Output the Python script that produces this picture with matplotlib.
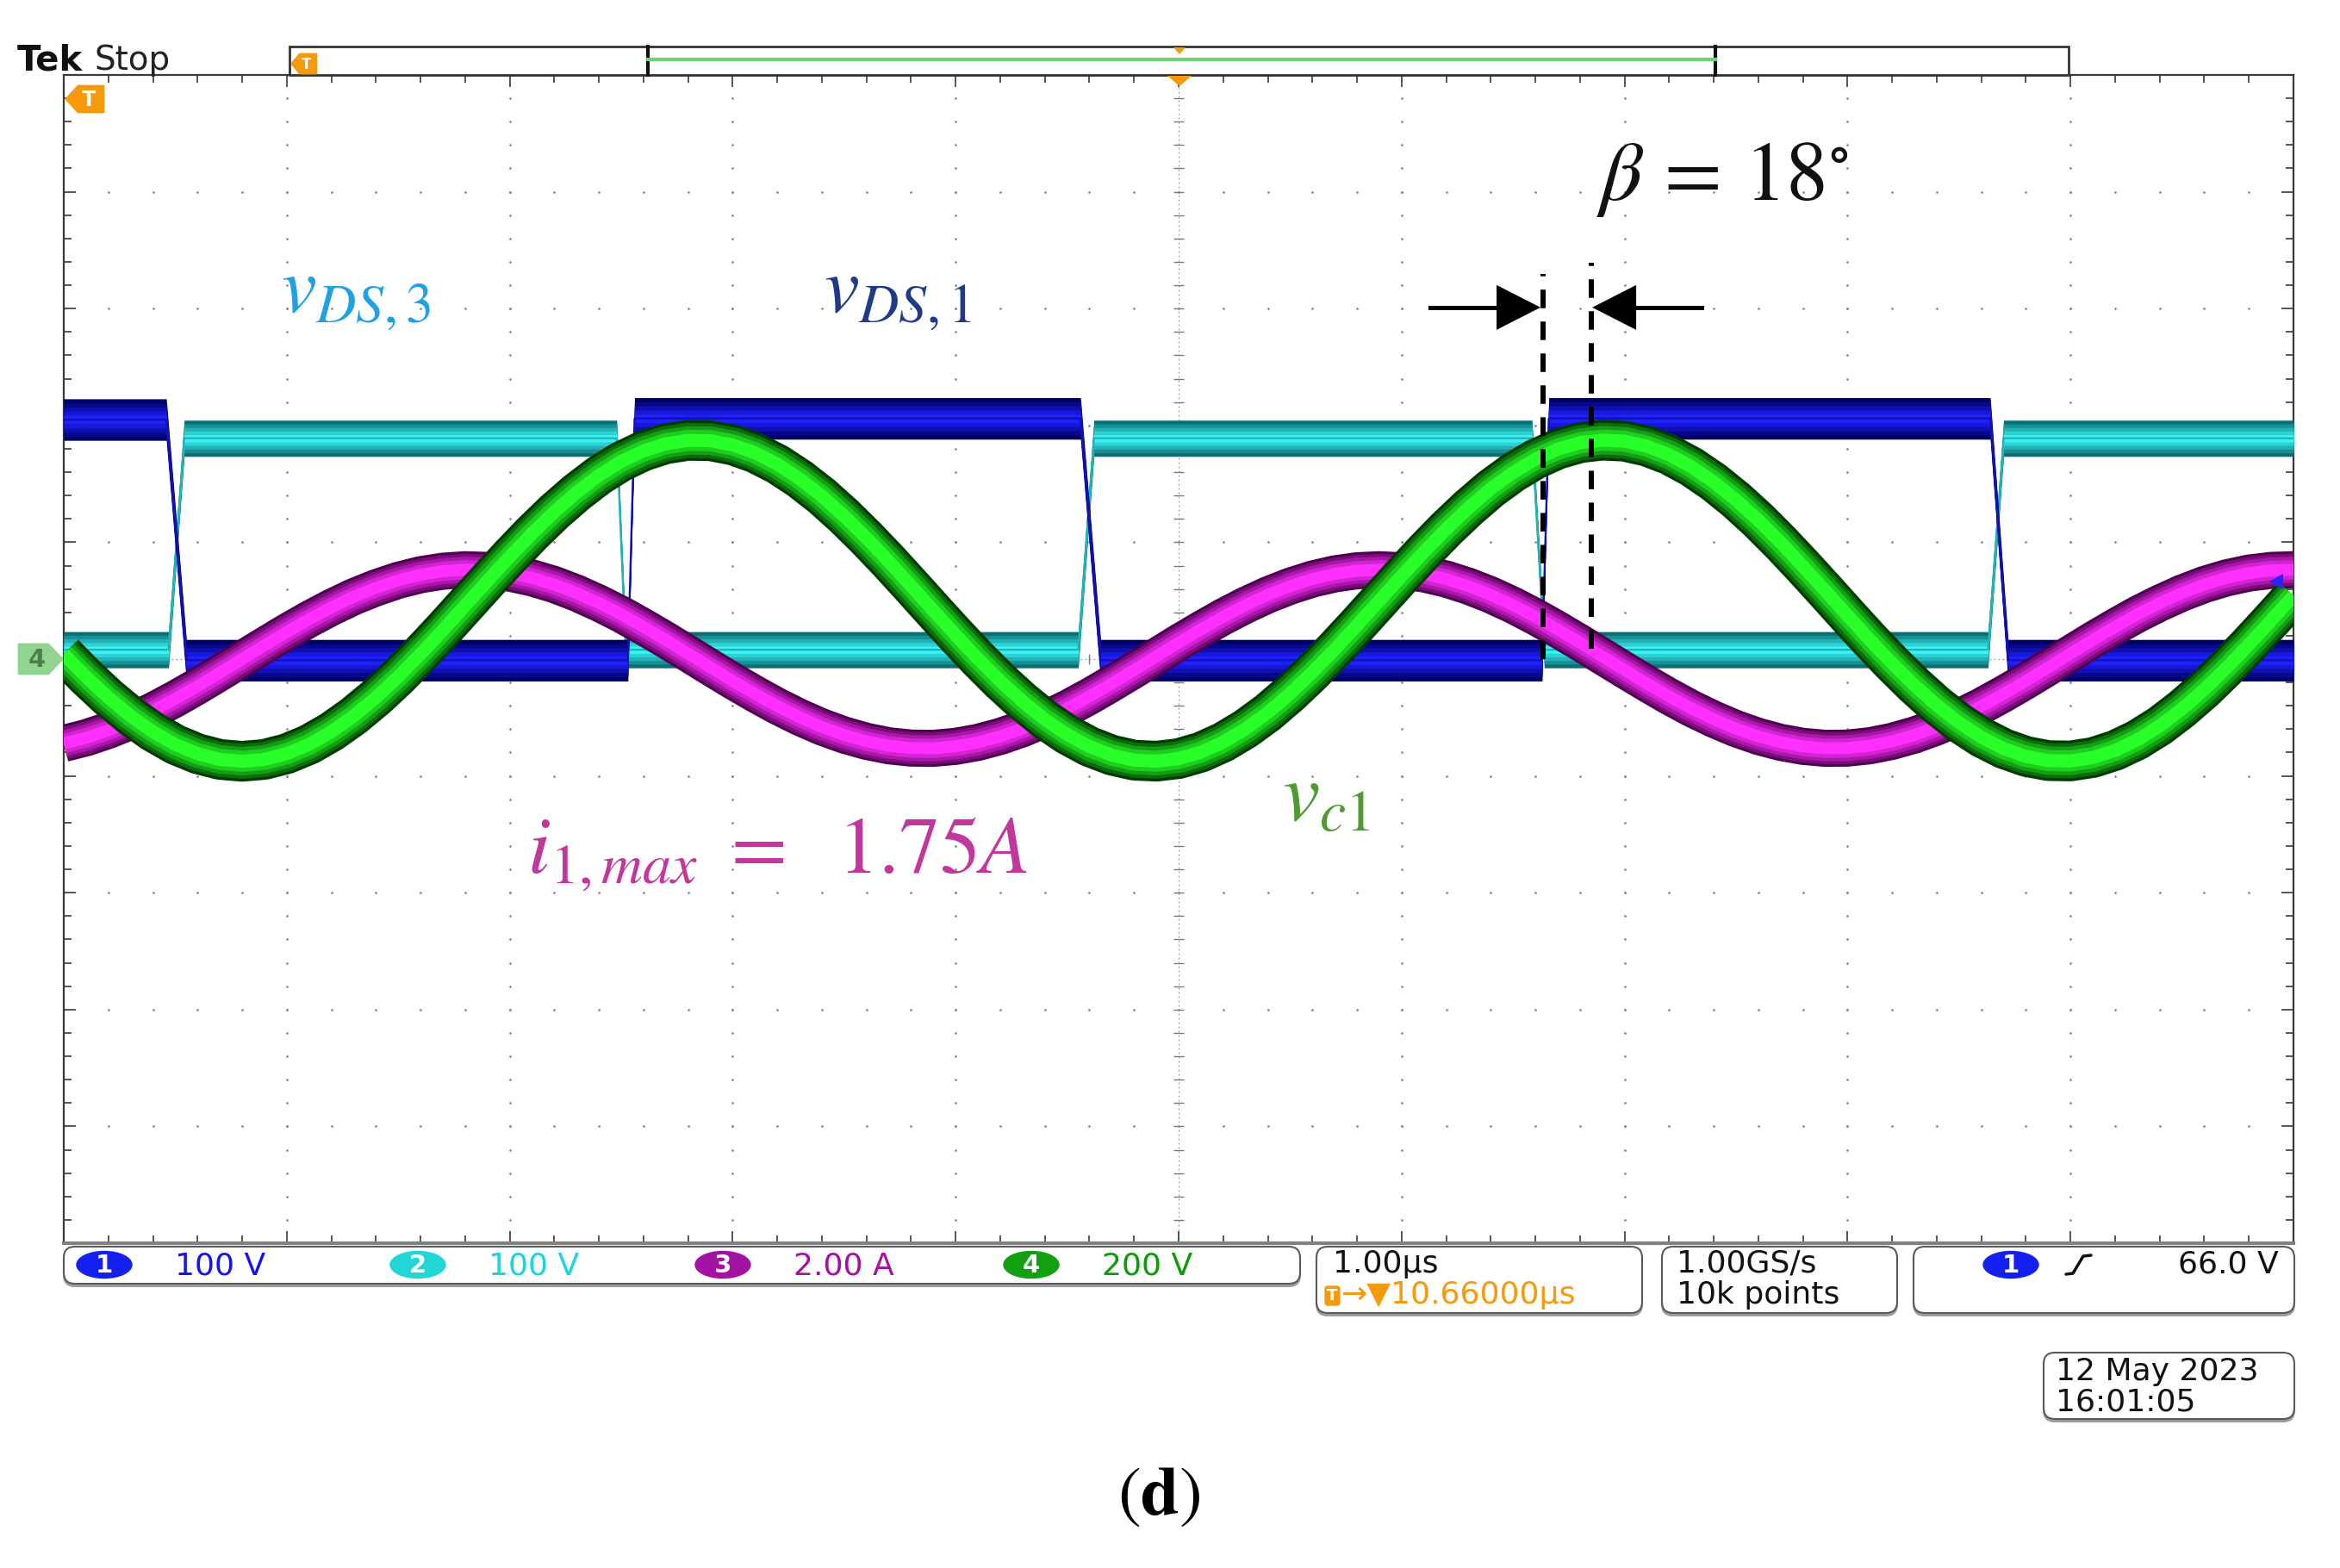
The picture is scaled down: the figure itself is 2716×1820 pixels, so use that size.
import matplotlib
matplotlib.use("Agg")
import matplotlib.pyplot as plt
from matplotlib.patches import FancyBboxPatch, Ellipse, Polygon, Rectangle
from matplotlib.collections import LineCollection
from matplotlib.colors import to_rgb
import numpy as np

plt.rcParams['mathtext.fontset'] = 'stix'
plt.rcParams['font.family'] = 'DejaVu Sans'

W, H = 2716, 1820
DPI = 100

# ---- trace data (x in div, 1.00us/div; y in div from centre) ----
t_s = np.linspace(0, 10, 101)

# ch4 v_c1 (200 V/div)
vc1 = [0.043, -0.151, -0.329, -0.487, -0.622, -0.731, -0.810, -0.859, -0.875, -0.859,
       -0.810, -0.731, -0.622, -0.487, -0.329, -0.151, 0.043, 0.247, 0.458, 0.669,
       0.876, 1.075, 1.260, 1.426, 1.572, 1.691, 1.782, 1.843, 1.872, 1.869,
       1.833, 1.766, 1.669, 1.544, 1.395, 1.224, 1.036, 0.836, 0.627, 0.415,
       0.206, 0.003, -0.188, -0.362, -0.516, -0.646, -0.749, -0.822, -0.865, -0.874,
       -0.852, -0.797, -0.711, -0.597, -0.458, -0.294, -0.113, 0.083, 0.289, 0.500,
       0.711, 0.917, 1.113, 1.294, 1.458, 1.597, 1.711, 1.797, 1.852, 1.874,
       1.865, 1.822, 1.749, 1.646, 1.516, 1.362, 1.188, 0.997, 0.794, 0.585,
       0.373, 0.164, -0.036, -0.224, -0.395, -0.544, -0.669, -0.766, -0.833, -0.869,
       -0.872, -0.843, -0.782, -0.691, -0.572, -0.426, -0.260, -0.075, 0.124, 0.331,
       0.542]

# ch3 i_1 (2.00 A/div)
i1 = [-0.722, -0.674, -0.610, -0.533, -0.442, -0.341, -0.232, -0.117, 0.000, 0.117,
      0.232, 0.341, 0.442, 0.533, 0.610, 0.674, 0.722, 0.752, 0.765, 0.759,
      0.736, 0.695, 0.638, 0.565, 0.479, 0.383, 0.276, 0.164, 0.047, -0.071,
      -0.187, -0.298, -0.403, -0.498, -0.581, -0.650, -0.704, -0.742, -0.762, -0.764,
      -0.747, -0.713, -0.662, -0.596, -0.515, -0.423, -0.320, -0.209, -0.094, 0.023,
      0.141, 0.254, 0.362, 0.461, 0.549, 0.624, 0.685, 0.729, 0.756, 0.765,
      0.756, 0.729, 0.685, 0.624, 0.549, 0.461, 0.362, 0.254, 0.141, 0.023,
      -0.094, -0.209, -0.320, -0.423, -0.515, -0.596, -0.662, -0.713, -0.747, -0.764,
      -0.762, -0.742, -0.704, -0.650, -0.581, -0.498, -0.403, -0.298, -0.187, -0.071,
      0.047, 0.164, 0.276, 0.383, 0.479, 0.565, 0.638, 0.695, 0.736, 0.759,
      0.765]

# ch1 v_DS,1 (100 V/div)
vds1_t = [0.0, 0.46, 0.55, 2.53, 2.56, 4.56, 4.65, 6.63, 6.66, 8.64, 8.72, 10.0]
vds1 = [2.05, 2.05, -0.01, -0.01, 2.06, 2.06, -0.01, -0.01, 2.06, 2.06, -0.01, -0.01]

# ch2 v_DS,3 (100 V/div)
vds3_t = [0.0, 0.47, 0.54, 2.48, 2.52, 4.55, 4.62, 6.585, 6.64, 8.63, 8.70, 10.0]
vds3 = [0.08, 0.08, 1.89, 1.89, 0.08, 0.08, 1.89, 1.89, 0.08, 0.08, 1.89, 1.89]

# phase marker (beta = 18 deg)
beta_x = [6.634, 6.851]
beta_top = [3.30, 3.39]
beta_bot = [0.00, 0.09]

fig = plt.figure(figsize=(W / DPI, H / DPI), dpi=DPI)
fig.patch.set_facecolor('white')

# graticule area in pixels
L, R, T, B = 74, 2662, 87, 1443
ax = fig.add_axes([L / W, 1 - B / H, (R - L) / W, (B - T) / H])
ax.set_xlim(0, 10)
ax.set_ylim(-5, 5)
ax.set_xticks([])
ax.set_yticks([])
for s in ax.spines.values():
    s.set_color('#3a3a3a')
    s.set_linewidth(1.6)
ax.spines['bottom'].set_color('#808080')
ax.spines['bottom'].set_linewidth(3.0)

px_x = 10 / (R - L)   # div per pixel
px_y = 10 / (B - T)

xm = np.round(np.arange(0, 10.001, 0.2), 3)
ym = np.round(np.arange(-5, 5.001, 0.2), 3)

# dotted grid
for gx in [1, 2, 3, 4, 6, 7, 8, 9]:
    ax.plot(np.full_like(ym, gx), ym, ls='none', marker='o', ms=2.0,
            color='#8c8c8c', mec='none', zorder=1)
for gy in [-4, -3, -2, -1, 1, 2, 3, 4]:
    ax.plot(xm, np.full_like(xm, gy), ls='none', marker='o', ms=2.0,
            color='#8c8c8c', mec='none', zorder=1)

# centre lines
ax.axvline(5, color='#9a9a9a', lw=0.9, ls=(0, (1.5, 2.5)), zorder=1)
ax.axhline(0, color='#9a9a9a', lw=0.9, ls=(0, (1.5, 2.5)), zorder=1)

segs = []
for y in ym:
    segs.append([(5 - 6 * px_x, y), (5 + 6 * px_x, y)])
for x in xm:
    segs.append([(x, -6 * px_y), (x, 6 * px_y)])
ax.add_collection(LineCollection(segs, colors='#7a7a7a', linewidths=1.0, zorder=1))

# border ticks
segs = []
for x in xm:
    ln = 14 if abs(x - round(x)) < 1e-6 else 9
    segs.append([(x, 5), (x, 5 - ln * px_y)])
    segs.append([(x, -5), (x, -5 + ln * px_y)])
for y in ym:
    ln = 14 if abs(y - round(y)) < 1e-6 else 9
    segs.append([(0, y), (ln * px_x, y)])
    segs.append([(10, y), (10 - ln * px_x, y)])
ax.add_collection(LineCollection(segs, colors='#3a3a3a', linewidths=1.2, zorder=1))


def shades(dark, bright, n=5):
    d = np.array(to_rgb(dark))
    b = np.array(to_rgb(bright))
    return [tuple(d + (b - d) * k / (n - 1)) for k in range(n)]


def square_band(t, v, half, dark, bright, z):
    t = np.array(t)
    v = np.array(v)
    fracs = [1.0, 0.8, 0.6, 0.4, 0.2]
    for frac, c in zip(fracs, shades(dark, bright)):
        ax.fill_between(t, v - half * frac, v + half * frac, color=c, lw=0, zorder=z)
    ax.plot(t, v, color=shades(dark, bright)[2], lw=1.6, zorder=z)


def sine_band(t, v, lw, dark, bright, z):
    fracs = [1.0, 0.86, 0.7, 0.52, 0.32]
    for frac, c in zip(fracs, shades(dark, bright)):
        ax.plot(t, v, color=c, lw=lw * frac, solid_capstyle='butt',
                solid_joinstyle='round', zorder=z)


square_band(vds3_t, vds3, 0.155, '#0a6f74', '#3af2f4', 3)
square_band(vds1_t, vds1, 0.178, '#000064', '#2020ff', 4)
sine_band(t_s, i1, 31, '#500050', '#ff30ff', 5)
sine_band(t_s, vc1, 34, '#003c00', '#28ff28', 6)

# phase marker lines and arrows
for x, y0, y1 in zip(beta_x, beta_bot, beta_top):
    ax.plot([x, x], [y0, y1], color='black', lw=4.3, ls=(0, (3.6, 2.6)),
            solid_capstyle='butt', zorder=7)

ay = 3.01
hl = 51 * px_x
hh = 26 * px_y
ax.plot([6.128, beta_x[0] - hl + 0.01], [ay, ay], color='black', lw=3.6, zorder=8)
ax.add_patch(Polygon([(beta_x[0] - 0.011, ay), (beta_x[0] - 0.011 - hl, ay + hh),
                      (beta_x[0] - 0.011 - hl, ay - hh)], closed=True, fc='black', ec='none', zorder=8))
ax.plot([beta_x[1] + hl - 0.01, 7.345], [ay, ay], color='black', lw=3.6, zorder=8)
ax.add_patch(Polygon([(beta_x[1] + 0.004, ay), (beta_x[1] + 0.004 + hl, ay + hh),
                      (beta_x[1] + 0.004 + hl, ay - hh)], closed=True, fc='black', ec='none', zorder=8))

# trace labels
ax.text(1.31, 3.13, r'$v_{DS,3}$', color='#1ea2e2', fontsize=66, ha='center', va='center', zorder=9)
ax.text(3.74, 3.13, r'$v_{DS,1}$', color='#1f3a8a', fontsize=66, ha='center', va='center', zorder=9)
ax.text(3.20, -1.67, r'$i_{1,max}\ =\ \ 1.75A$', color='#c2379c', fontsize=68,
        ha='center', va='center', zorder=9)
ax.text(5.66, -1.19, r'$v_{c1}$', color='#4f9a32', fontsize=70, ha='center', va='center', zorder=9)
ax.text(7.44, 4.11, r'$\beta\,=\,18^{\circ}$', color='#111111', fontsize=70, ha='center', va='center', zorder=9)

# ---- overlay in pixel coordinates for the scope read-outs ----
ov = fig.add_axes([0, 0, 1, 1], zorder=5)
ov.set_xlim(0, W)
ov.set_ylim(H, 0)
ov.axis('off')

ORANGE = '#f59a0c'


def tag(x0, x1, y0, y1, point, color, label, tcolor, fs):
    w = x1 - x0
    yc = (y0 + y1) / 2
    k = 0.32 * w
    if point == 'left':
        pts = [(x0, yc), (x0 + k, y0), (x1, y0), (x1, y1), (x0 + k, y1)]
        tx = x0 + k + (w - k) / 2 - 2
    else:
        pts = [(x0, y0), (x1 - k, y0), (x1, yc), (x1 - k, y1), (x0, y1)]
        tx = x0 + (w - k) / 2 + 4
    ov.add_patch(Polygon(pts, closed=True, fc=color, ec=color, lw=2, joinstyle='round'))
    ov.text(tx, yc + 1, label, color=tcolor, fontsize=fs, fontweight='bold', ha='center', va='center')


def box(x, y, w, h):
    ov.add_patch(FancyBboxPatch((x, y + 3), w, h, boxstyle='round,pad=0,rounding_size=13',
                                fc='#9c9c9c', ec='#9c9c9c', lw=1.5))
    ov.add_patch(FancyBboxPatch((x, y), w, h, boxstyle='round,pad=0,rounding_size=13',
                                fc='white', ec='#5a5a5a', lw=1.5))


def badge(xc, yc, color, label):
    ov.add_patch(Ellipse((xc, yc), 64, 31, fc=color, ec=color))
    ov.text(xc, yc + 1, label, color='white', fontsize=21, fontweight='bold', ha='center', va='center')


# header
ov.text(20, 70, 'Tek', fontsize=29, fontweight='bold', ha='left', va='center', color='#111111')
ov.text(110, 70, 'Stop', fontsize=28, ha='left', va='center', color='#222222')

# record view bar
ov.add_patch(Rectangle((336, 54), 2401 - 336, 33, fc='white', ec='#333333', lw=2))
ov.plot([752, 752], [54, 87], color='#111111', lw=3)
ov.plot([1991, 1991], [54, 87], color='#111111', lw=3)
ov.plot([752, 1991], [69, 69], color='#6fd46f', lw=3)
ov.add_patch(Polygon([(1362, 55), (1376, 55), (1369, 63)], closed=True, fc=ORANGE, ec='none'))
ov.add_patch(Polygon([(1355, 88), (1383, 88), (1369, 100)], closed=True, fc=ORANGE, ec='none'))
tag(339, 367, 63, 85, 'left', ORANGE, 'T', 'white', 12)

# trigger marker and ground marker
tag(77, 120, 100, 130, 'left', ORANGE, 'T', 'white', 17)
tag(22, 72, 748, 782, 'right', '#90d490', '4', '#4c7f4c', 21)
ov.add_patch(Polygon([(2634, 675), (2650, 666), (2650, 684)], closed=True, fc='#2424ff', ec='none'))

# channel read-out bar
box(74, 1447, 1435, 43)
ch_x = [121, 485, 839, 1197]
ch_col = ['#1420f0', '#22d6d8', '#a412a4', '#10a010']
ch_txt_col = ['#1414f0', '#1cd4dc', '#a511a5', '#0b9b0b']
ch_scale = ['100 V', '100 V', '2.00 A', '200 V']
for i, (xc, c, tc, s) in enumerate(zip(ch_x, ch_col, ch_txt_col, ch_scale)):
    badge(xc, 1468, c, str(i + 1))
    ov.text(xc + 82, 1469, s, color=tc, fontsize=26, ha='left', va='center')

# horizontal
box(1528, 1447, 378, 77)
ov.text(1547, 1467, '1.00\u03bcs', fontsize=26, ha='left', va='center', color='#111111')
ov.add_patch(FancyBboxPatch((1538, 1493), 17, 22, boxstyle='round,pad=0,rounding_size=3',
                            fc=ORANGE, ec=ORANGE))
ov.text(1546.5, 1504, 'T', color='white', fontsize=13, fontweight='bold', ha='center', va='center')
ov.text(1557, 1503, '\u2192\u25bc10.66000\u03bcs', color=ORANGE, fontsize=26, ha='left', va='center')

# acquisition
box(1929, 1447, 273, 77)
ov.text(1946, 1467, '1.00GS/s', fontsize=26, ha='left', va='center', color='#111111')
ov.text(1946, 1503, '10k points', fontsize=26, ha='left', va='center', color='#111111')

# trigger
box(2221, 1447, 442, 77)
badge(2334, 1468, '#1420f0', '1')
ov.plot([2398, 2406, 2418, 2427], [1479, 1478, 1458, 1457], color='#111111', lw=2.5,
        solid_capstyle='round')
ov.text(2645, 1467, '66.0 V', fontsize=26, ha='right', va='center', color='#111111')

# date
box(2372, 1570, 291, 77)
ov.text(2386, 1592, '12 May 2023', fontsize=26, ha='left', va='center', color='#111111')
ov.text(2386, 1627, '16:01:05', fontsize=26, ha='left', va='center', color='#111111')

# sub-figure label
ov.text(1345, 1736, r'$(\mathbf{d})$', fontsize=58, ha='center', va='center', color='black')

fig.savefig('out.png', dpi=DPI, facecolor='white')
